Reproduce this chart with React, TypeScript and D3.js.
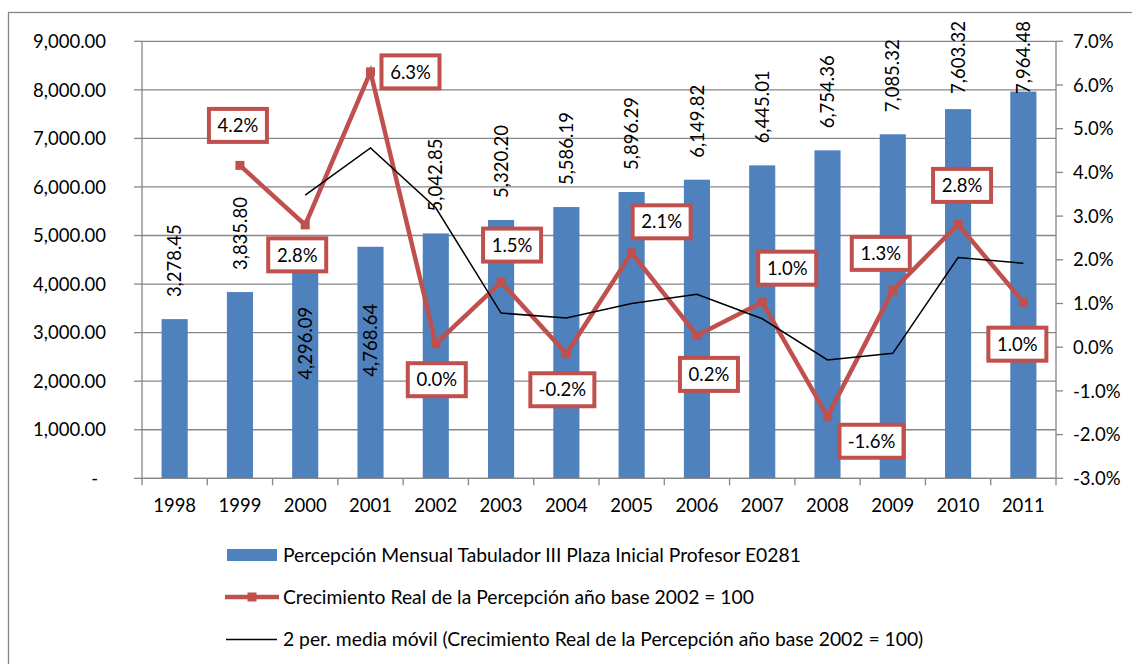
import React from "react";
import * as d3 from "d3";

const years = ["1998","1999","2000","2001","2002","2003","2004","2005","2006","2007","2008","2009","2010","2011"];
const percepcion = [3278.45,3835.80,4296.09,4768.64,5042.85,5320.20,5586.19,5896.29,6149.82,6445.01,6754.36,7085.32,7603.32,7964.48];
// Crecimiento real (%), null where not available
const crecimiento: (number | null)[] = [null,4.16,2.80,6.30,0.08,1.49,-0.15,2.16,0.27,1.03,-1.58,1.30,2.81,1.03];
const crecimientoLabels = ["","4.2%","2.8%","6.3%","0.0%","1.5%","-0.2%","2.1%","0.2%","1.0%","-1.6%","1.3%","2.8%","1.0%"];
// 2-period moving average (%)
const mediaMovil: (number | null)[] = [null,null,3.48,4.56,3.19,0.78,0.67,1.00,1.21,0.65,-0.29,-0.14,2.05,1.92];
const leftTicks = [0,1000,2000,3000,4000,5000,6000,7000,8000,9000];
const rightTicks = [-3,-2,-1,0,1,2,3,4,5,6,7];
const legendLabels = [
  "Percepción Mensual Tabulador III Plaza Inicial Profesor E0281",
  "Crecimiento Real de la Percepción año base 2002 = 100",
  "2 per. media móvil (Crecimiento Real de la Percepción año base 2002 = 100)",
];

// annotation box offsets relative to each point (layout)
const boxOffsets: [number, number][] = [[0,0],[-2,-40],[-8,30],[40,0],[1,36],[11,-37],[-4,36],[30,-31],[12,39],[25,-34],[44,25],[-12,-37],[4,-39],[-6,42]];
const labelNudge: Record<string, number> = { "2000": 132, "2001": 152 };

const BLUE = "#4F81BD";
const RED = "#C0504D";
const GRID = "#868686";
const FONT = "Lato, 'Open Sans', sans-serif";

export default function App() {
  const W = 1132, H = 664;
  const left = 142, right = 1056, top = 41.3, bottom = 478.3;
  const x = d3.scaleBand<string>().domain(years).range([left, right]).paddingInner(0.6).paddingOuter(0.3);
  const yL = d3.scaleLinear().domain([0, 9000]).range([bottom, top]);
  const yR = d3.scaleLinear().domain([-3, 7]).range([bottom, top]);
  const cx = (y: string) => (x(y) as number) + x.bandwidth() / 2;
  const step = x.step();
  const fmtL = d3.format(",.2f");
  const fmtR = (v: number) => d3.format(".1f")(v).replace("\u2212", "-") + "%";

  const redLine = d3.line<[string, number | null]>()
    .defined(d => d[1] !== null)
    .x(d => cx(d[0]))
    .y(d => yR(d[1] as number));
  const redPts = years.map((y, i) => [y, crecimiento[i]] as [string, number | null]);
  const maPts = years.map((y, i) => [y, mediaMovil[i]] as [string, number | null]);

  const fs = 18.5;
  const lfs = 19.3;
  const labelLen = 77;

  return (
    <div style={{ position: "absolute", left: 0, top: 0 }}>
      <svg width={W} height={H} style={{ display: "block", background: "#fff" }} fontFamily={FONT}>
        <rect x={8.5} y={12.5} width={1140} height={700} fill="#fff" stroke={GRID} strokeWidth={1.3} />
        {leftTicks.map(t => (
          <line key={"g" + t} x1={left} x2={right} y1={yL(t)} y2={yL(t)} stroke={GRID} strokeWidth={1.3} />
        ))}
        {leftTicks.map(t => (
          <g key={"l" + t}>
            <line x1={left - 8} x2={left} y1={yL(t)} y2={yL(t)} stroke={GRID} strokeWidth={1.3} />
            <text x={t === 0 ? 98 : 106} y={yL(t)} dy="0.36em" textAnchor="end" fontSize={fs} fill="#000">
              {t === 0 ? "-" : fmtL(t)}
            </text>
          </g>
        ))}
        {rightTicks.map(t => (
          <g key={"r" + t}>
            <line x1={right} x2={right + 7} y1={yR(t)} y2={yR(t)} stroke={GRID} strokeWidth={1.3} />
            <text x={1073} y={yR(t)} dy="0.36em" textAnchor="start" fontSize={fs} fill="#000">
              {fmtR(t)}
            </text>
          </g>
        ))}
        {years.map((y, i) => (
          <rect key={"b" + y} x={x(y)} y={yL(percepcion[i])} width={x.bandwidth()} height={bottom - yL(percepcion[i])} fill={BLUE} />
        ))}
        <line x1={left} x2={left} y1={top} y2={bottom} stroke={GRID} strokeWidth={1.3} />
        <line x1={right} x2={right} y1={top} y2={bottom} stroke={GRID} strokeWidth={1.3} />
        <line x1={left} x2={right} y1={bottom} y2={bottom} stroke={GRID} strokeWidth={1.3} />
        {d3.range(years.length + 1).map(i => (
          <line key={"ct" + i} x1={left + i * step} x2={left + i * step} y1={bottom} y2={bottom + 7} stroke={GRID} strokeWidth={1.3} />
        ))}
        {years.map(y => (
          <text key={"yl" + y} x={cx(y)} y={505} dy="0.36em" textAnchor="middle" fontSize={fs} fill="#000">{y}</text>
        ))}
        {years.map((y, i) => {
          const barTop = yL(percepcion[i]);
          const base = barTop - 22 + (labelNudge[y] || 0);
          let anchor = "start";
          let pos = base;
          if (base - labelLen < 21) { anchor = "end"; pos = 21; }
          return (
            <text key={"bl" + y} transform={`translate(${cx(y)},${pos}) rotate(-90)`} dy="0.36em" textAnchor={anchor} fontSize={fs} fill="#000">
              {fmtL(percepcion[i])}
            </text>
          );
        })}
        <path d={redLine(redPts) || ""} fill="none" stroke={RED} strokeWidth={4.5} strokeLinejoin="miter" />
        {redPts.filter(d => d[1] !== null).map(d => (
          <rect key={"m" + d[0]} x={cx(d[0]) - 4.5} y={yR(d[1] as number) - 4.5} width={9} height={9} fill={RED} />
        ))}
        <path d={redLine(maPts) || ""} fill="none" stroke="#000" strokeWidth={1.5} />
        {redPts.map((d, i) => {
          if (d[1] === null) return null;
          const lab = crecimientoLabels[i];
          const bx = cx(d[0]) + boxOffsets[i][0];
          const by = yR(d[1] as number) + boxOffsets[i][1];
          const w = lab.startsWith("-") ? 64 : 58;
          const h = 33;
          return (
            <g key={"a" + d[0]}>
              <rect x={bx - w / 2} y={by - h / 2} width={w} height={h} fill="#fff" stroke={RED} strokeWidth={4} />
              <text x={bx} y={by} dy="0.36em" textAnchor="middle" fontSize={fs} fill="#000">{lab}</text>
            </g>
          );
        })}
        {/* legend */}
        <rect x={227} y={549} width={50} height={12} fill={BLUE} />
        <text x={283} y={555} dy="0.36em" fontSize={lfs} fill="#000">{legendLabels[0]}</text>
        <line x1={225} x2={279} y1={597} y2={597} stroke={RED} strokeWidth={4.5} />
        <rect x={247.5} y={592.5} width={9} height={9} fill={RED} />
        <text x={283} y={597} dy="0.36em" fontSize={lfs} fill="#000">{legendLabels[1]}</text>
        <line x1={226} x2={277} y1={639.5} y2={639.5} stroke="#000" strokeWidth={1.5} />
        <text x={283} y={639.5} dy="0.36em" fontSize={lfs} fill="#000">{legendLabels[2]}</text>
      </svg>
    </div>
  );
}
